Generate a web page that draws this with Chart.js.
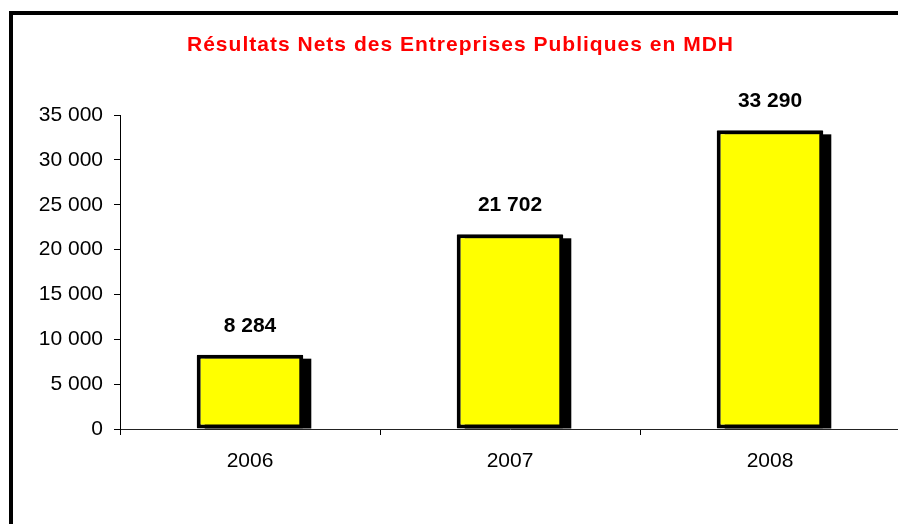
<!DOCTYPE html>
<html>
<head>
<meta charset="utf-8">
<script src="https://cdn.jsdelivr.net/npm/chart.js@4.4.1/dist/chart.umd.min.js"></script>
<style>
  html, body { margin: 0; padding: 0; background: #fff; overflow: hidden; }
  #wrap { position: absolute; left: 0; top: 0; width: 910px; height: 540px; }
</style>
</head>
<body>
<div id="wrap"><canvas id="c"></canvas></div>
<script>
const title = 'Résultats Nets des Entreprises Publiques en MDH';
const categories = ['2006', '2007', '2008'];
const values = [8284, 21702, 33290];
const yMin = 0, yMax = 35000, yStep = 5000;

function fmt(v) {
  return String(v).replace(/\B(?=(\d{3})+(?!\d))/g, ' ');
}

const framePlugin = {
  id: 'frame',
  beforeDraw(chart) {
    const ctx = chart.ctx;
    ctx.save();
    ctx.fillStyle = '#fff';
    ctx.fillRect(0, 0, chart.width, chart.height);
    ctx.strokeStyle = '#000';
    ctx.lineWidth = 4;
    ctx.strokeRect(11, 13, 3000, 3000);
    // title
    ctx.font = 'bold 21px "Liberation Sans", Arial, sans-serif';
    ctx.fillStyle = '#ff0000';
    ctx.textBaseline = 'alphabetic';
    ctx.textAlign = 'left';
    const targetW = 546;
    const w0 = ctx.measureText(title).width;
    const ls = (targetW - w0) / (title.length - 1);
    ctx.letterSpacing = ls + 'px';
    ctx.fillText(title, 460 - targetW / 2, 51);
    ctx.restore();
  }
};

const shadowPlugin = {
  id: 'shadow',
  beforeDatasetsDraw(chart) {
    const ctx = chart.ctx;
    const meta = chart.getDatasetMeta(0);
    ctx.save();
    ctx.fillStyle = '#000';
    meta.data.forEach(bar => {
      const p = bar.getProps(['x', 'y', 'base', 'width'], true);
      const left = p.x - p.width / 2 + 8;
      const top = p.y + 4;
      ctx.fillRect(left, top, p.width, p.base - top);
    });
    ctx.restore();
  },
  afterDatasetsDraw(chart) {
    const ctx = chart.ctx;
    const meta = chart.getDatasetMeta(0);
    ctx.save();
    ctx.font = 'bold 21px "Liberation Sans", Arial, sans-serif';
    ctx.fillStyle = '#000';
    ctx.textAlign = 'center';
    ctx.textBaseline = 'alphabetic';
    meta.data.forEach((bar, i) => {
      const p = bar.getProps(['x', 'y'], true);
      ctx.fillText(fmt(values[i]), p.x, p.y - 23);
    });
    ctx.restore();
  }
};

new Chart(document.getElementById('c'), {
  type: 'bar',
  data: {
    labels: categories,
    datasets: [{
      data: values,
      backgroundColor: '#ffff00',
      borderColor: '#000',
      borderWidth: 4,
      borderSkipped: false,
      borderRadius: 1,
      categoryPercentage: 1,
      barPercentage: 0.41
    }]
  },
  options: {
    responsive: true,
    maintainAspectRatio: false,
    animation: false,
    layout: { padding: { top: 115, right: 10, left: 0, bottom: 0 } },
    plugins: { legend: { display: false }, title: { display: false }, tooltip: { enabled: false } },
    scales: {
      x: {
        afterFit(s) { s.height = 111; },
        grid: { offset: true, drawOnChartArea: false, drawTicks: true, tickLength: 6, color: '#000' },
        border: { display: true, color: '#222', width: 1 },
        ticks: { color: '#000', padding: 14, font: { family: '"Liberation Sans", Arial, sans-serif', size: 21 } }
      },
      y: {
        min: yMin, max: yMax,
        afterFit(s) { s.width = 120; },
        grid: { drawOnChartArea: false, drawTicks: true, tickLength: 6, color: '#000' },
        border: { display: true, color: '#000', width: 1 },
        ticks: {
          stepSize: yStep, color: '#000', padding: 11,
          font: { family: '"Liberation Sans", Arial, sans-serif', size: 21 },
          callback: v => fmt(v)
        }
      }
    }
  },
  plugins: [framePlugin, shadowPlugin]
});
</script>
</body>
</html>
